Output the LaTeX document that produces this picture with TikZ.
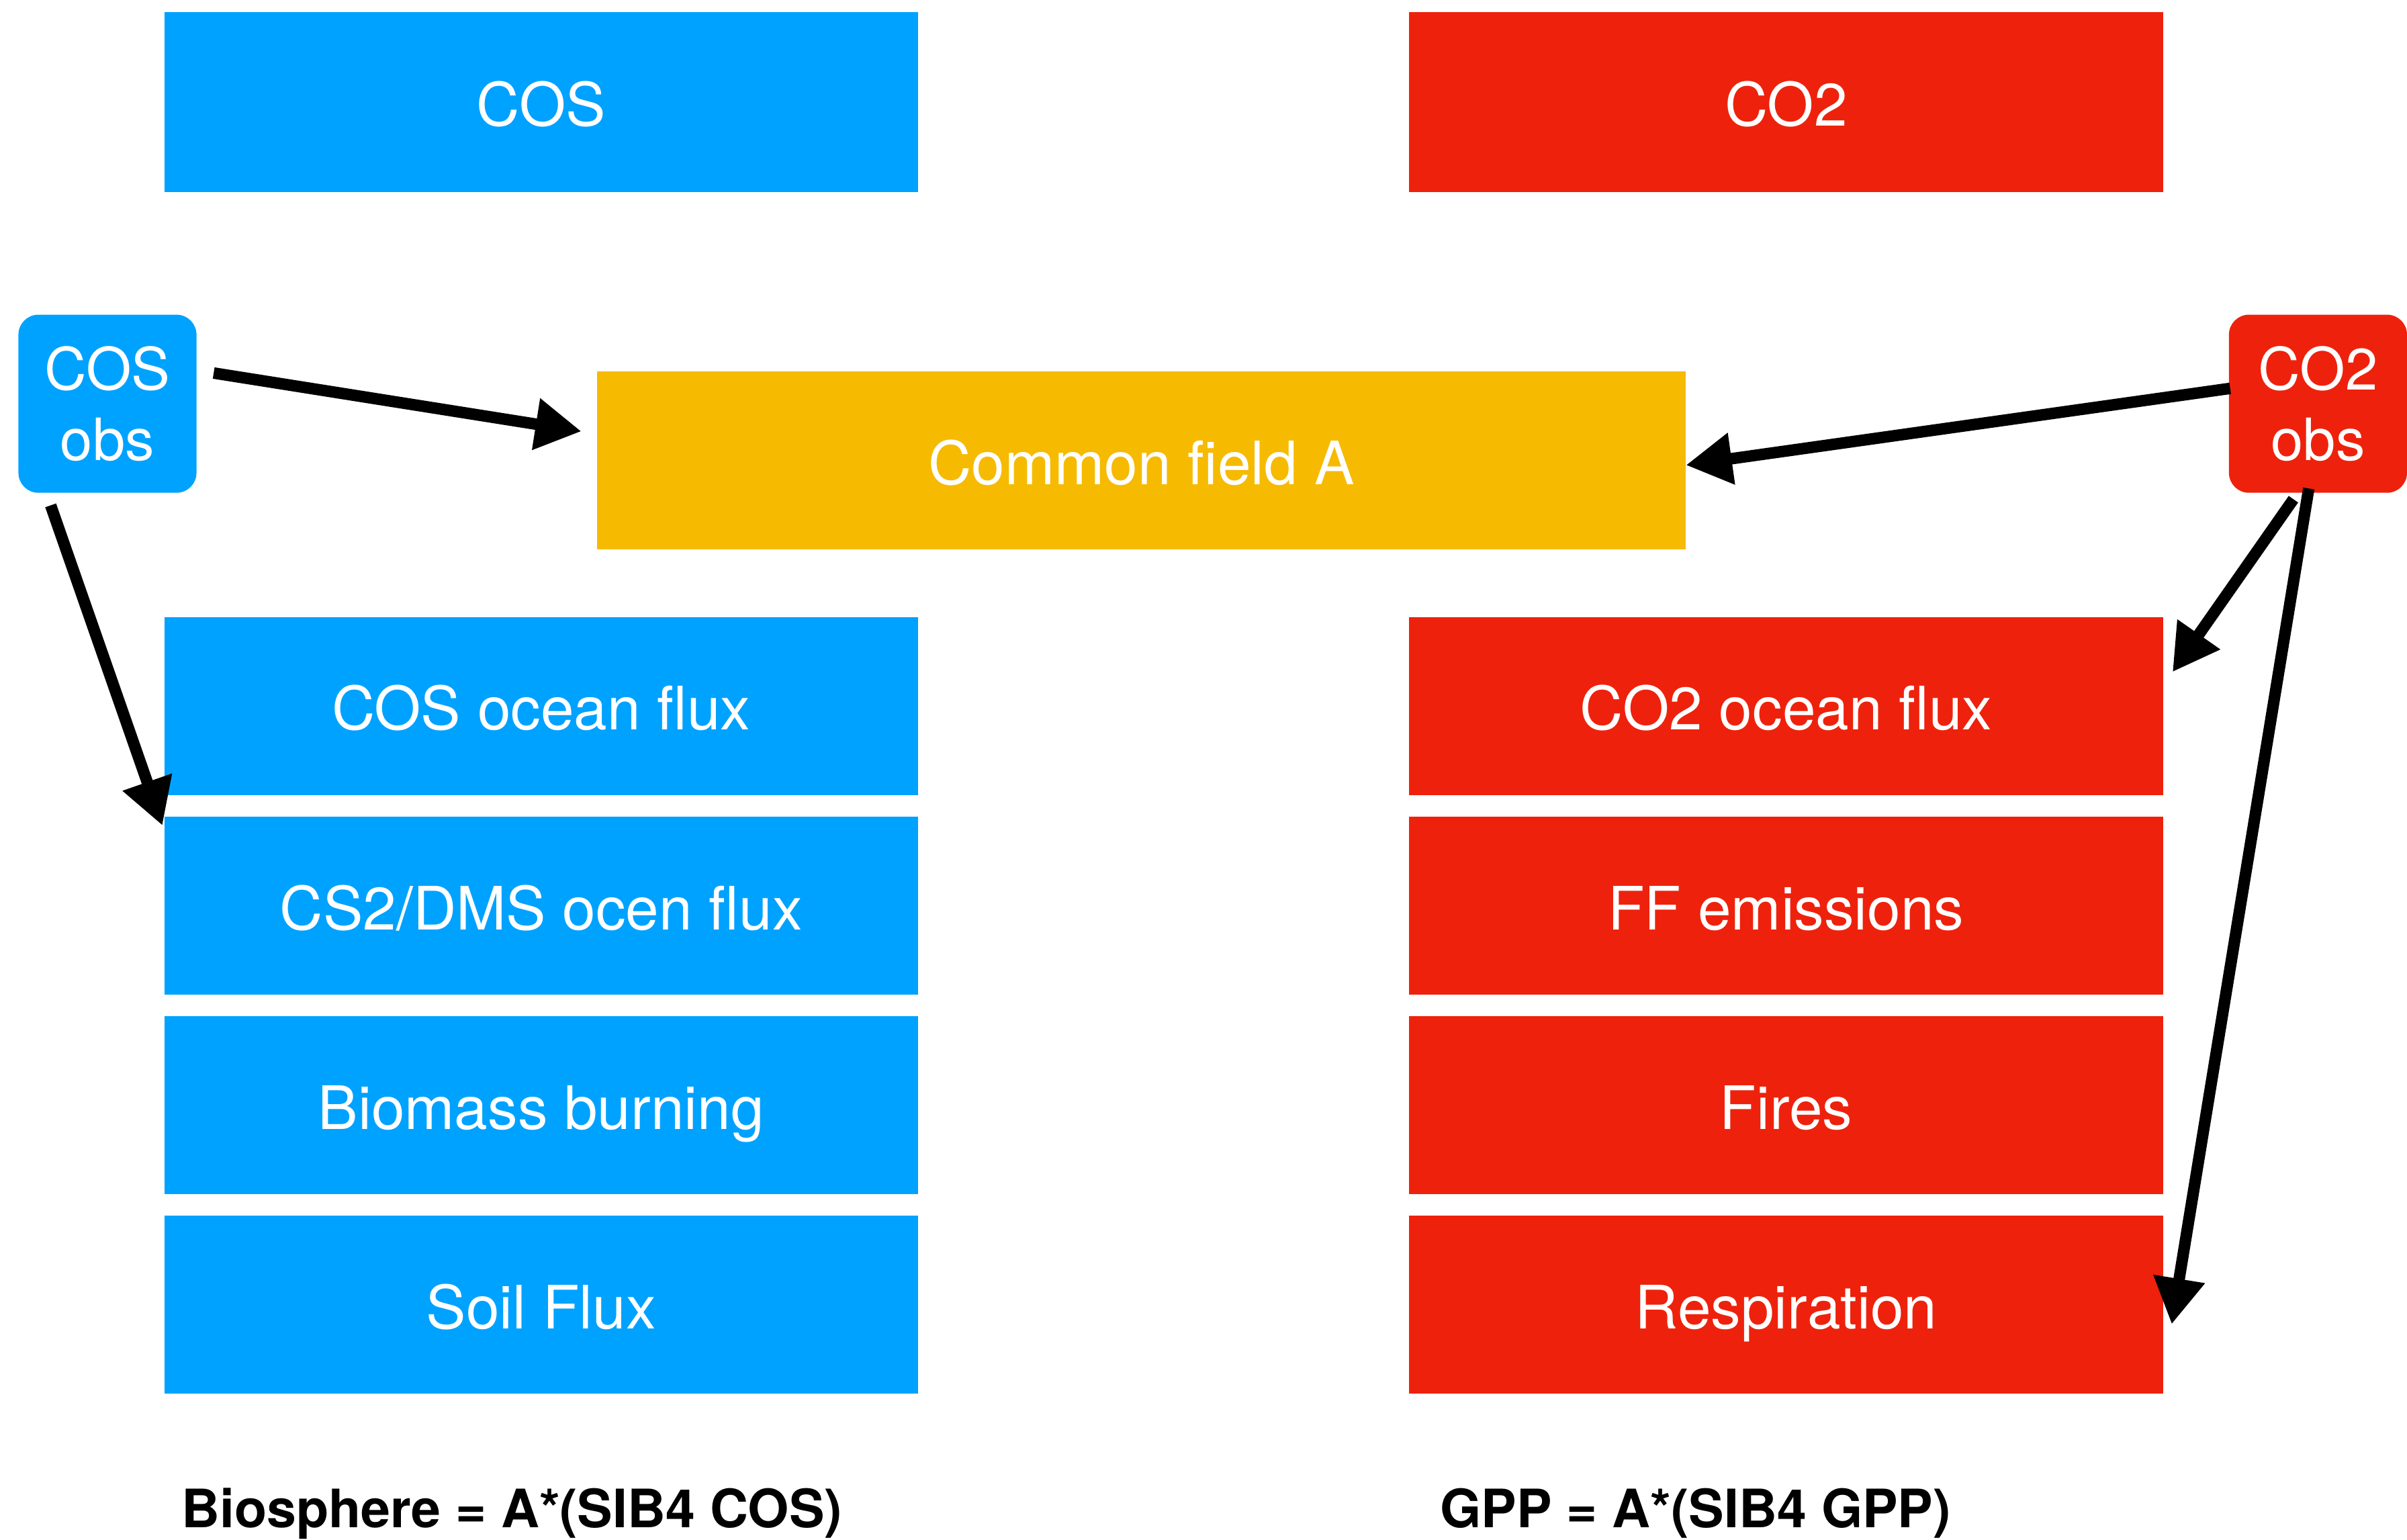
\documentclass[tikz,border=0pt]{standalone}
\usepackage{fontspec}
\setmainfont{TeX Gyre Heros}
\usetikzlibrary{arrows.meta,calc}
\definecolor{cblue}{RGB}{0,162,255}
\definecolor{cred}{RGB}{238,34,12}
\definecolor{cyellow}{RGB}{246,186,0}
\begin{document}
\begin{tikzpicture}[x=1pt,y=-1pt,
  box/.style={rectangle, inner sep=0pt, minimum width=491pt, minimum height=116pt,
    text height=31pt, text depth=0pt,
    text=white, font=\fontsize{39}{46}\selectfont},
  bluebox/.style={box, fill=cblue},
  redbox/.style={box, fill=cred},
  obsbox/.style={rectangle, rounded corners=13pt, inner sep=0pt, minimum width=116pt,
    minimum height=116pt, text=white, align=center, font=\fontsize{38}{46}\selectfont},
  formula/.style={anchor=base west, inner sep=0pt, font=\fontsize{34.5}{40}\selectfont\bfseries},
  link/.style={line width=7.5pt, -{Triangle[length=30pt,width=32pt]}}
]
\useasboundingbox (0,0) rectangle (1568,1003);
\fill[white] (0,0) rectangle (1568,1003);

% top boxes
\node[bluebox, minimum height=117pt] (cos) at (352.5,66.5) {COS};
\node[redbox, minimum height=117pt] (co2) at (1163.5,66.5) {CO2};

% common field
\node[box, fill=cyellow, minimum width=709pt] (common) at (743.5,300) {Common field A};

% left column
\node[bluebox] (cosocean) at (352.5,460) {COS ocean flux};
\node[bluebox] (csdms) at (352.5,590) {CS2/DMS ocen flux};
\node[bluebox] (biomass) at (352.5,720) {Biomass burning};
\node[bluebox] (soil) at (352.5,850) {Soil Flux};

% right column
\node[redbox] (co2ocean) at (1163.5,460) {CO2 ocean flux};
\node[redbox] (ff) at (1163.5,590) {FF emissions};
\node[redbox] (fires) at (1163.5,720) {Fires};
\node[redbox] (resp) at (1163.5,850) {Respiration};

% obs boxes
\node[obsbox, fill=cblue] (cosobs) at (70,263) {COS\\obs};
\node[obsbox, fill=cred] (co2obs) at (1510,263) {CO2\\obs};

% arrows
\draw[link] ($(cosobs.east)+(11,-20)$) -- ($(common.west)+(-10,-19)$);
\draw[link] ($(cosobs.south)+(-37,8)$) -- ($(csdms.north west)+(-1,6)$);
\draw[link] ($(co2obs.west)+(1,-10)$) -- ($(common.east)+(0,3)$);
\draw[link] ($(co2obs.south)+(-16,4)$) -- ($(co2ocean.north east)+(6,36)$);
\draw[link] ($(co2obs.south)+(-6,-3)$) -- ($(resp.east)+(5.5,12.7)$);

% formulas
\node[formula] (fcos) at (118,995) {Biosphere = A*(SIB4 COS)};
\node[formula] (fgpp) at (938,995) {GPP = A*(SIB4 GPP)};
\end{tikzpicture}
\end{document}
